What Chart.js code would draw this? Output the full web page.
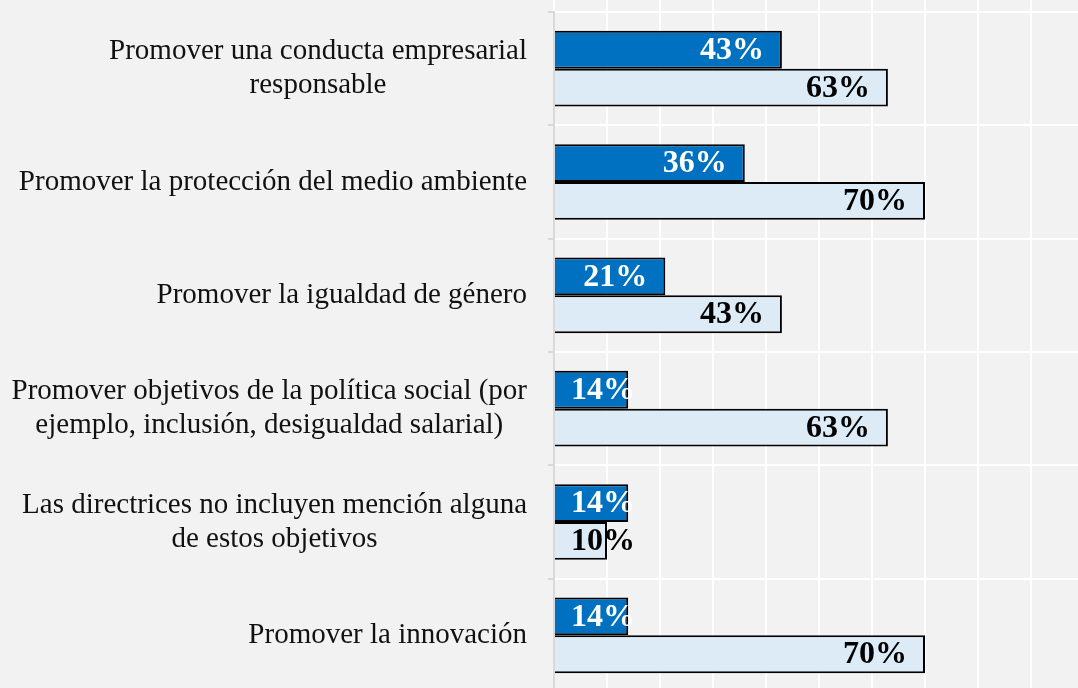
<!DOCTYPE html>
<html>
<head>
<meta charset="utf-8">
<script src="https://cdn.jsdelivr.net/npm/chart.js@4.4.1/dist/chart.umd.min.js"></script>
<style>
  html, body { margin: 0; padding: 0; background: #F2F2F2; overflow: hidden; }
  #wrap { width: 1084px; height: 692px; position: relative; }
</style>
</head>
<body>
<div id="wrap"><canvas id="objChart"></canvas></div>
<script>
// categories (multi-line labels)
const categories = [
    ['Promover una conducta empresarial', 'responsable'],
    ['Promover la protección del medio ambiente'],
    ['Promover la igualdad de género'],
    ['Promover objetivos de la política social (por', 'ejemplo, inclusión, desigualdad salarial)'],
    ['Las directrices no incluyen mención alguna', 'de estos objetivos'],
    ['Promover la innovación']
];
const seriesA = [43, 36, 21, 14, 14, 14];
const seriesB = [63, 70, 43, 63, 10, 70];
const xTicks = [0, 10, 20, 30, 40, 50, 60, 70, 80, 90, 100];

const SERIF = "'Liberation Serif', 'Times New Roman', serif";

// category labels: block right-aligned, lines centered to each other
const categoryLabels = {
    id: 'categoryLabels',
    afterDraw(chart) {
        const ctx = chart.ctx;
        const yScale = chart.scales.y;
        const rightEdge = chart.chartArea.left - 27;
        const lineH = 34;
        ctx.save();
        ctx.font = '29px ' + SERIF;
        ctx.fillStyle = '#111111';
        ctx.textAlign = 'center';
        ctx.textBaseline = 'middle';
        categories.forEach((lines, i) => {
            const yc = yScale.getPixelForTick(i);
            const maxW = Math.max(...lines.map(l => ctx.measureText(l).width));
            const cx = rightEdge - maxW / 2;
            lines.forEach((l, j) => {
                ctx.fillText(l, cx, yc + (j - (lines.length - 1) / 2) * lineH);
            });
        });
        ctx.restore();
    }
};

// value labels at inside end of bars
const valueLabels = {
    id: 'valueLabels',
    afterDatasetsDraw(chart) {
        const ctx = chart.ctx;
        ctx.save();
        ctx.font = 'bold 32px ' + SERIF;
        ctx.textAlign = 'right';
        ctx.textBaseline = 'middle';
        chart.data.datasets.forEach((ds, di) => {
            const meta = chart.getDatasetMeta(di);
            ctx.fillStyle = di === 0 ? '#FFFFFF' : '#000000';
            meta.data.forEach((bar, i) => {
                const txt = ds.data[i] + '%';
                const w = ctx.measureText(txt).width;
                const right = Math.max(bar.x - 18, bar.base + 16 + w);
                ctx.fillText(txt, right, bar.y + 1);
            });
        });
        ctx.restore();
    }
};

new Chart(document.getElementById('objChart'), {
    type: 'bar',
    data: {
        labels: categories,
        datasets: [{
            label: 'Serie A',
            data: seriesA,
            backgroundColor: '#0070C0',
            borderColor: '#000000',
            borderWidth: 2,
            categoryPercentage: 0.667,
            barPercentage: 1.0
        }, {
            label: 'Serie B',
            data: seriesB,
            backgroundColor: '#DDEBF7',
            borderColor: '#000000',
            borderWidth: 2,
            categoryPercentage: 0.667,
            barPercentage: 1.0
        }]
    },
    options: {
        indexAxis: 'y',
        responsive: true,
        maintainAspectRatio: false,
        animation: false,
        layout: { padding: 0 },
        plugins: {
            legend: { display: false },
            tooltip: { enabled: false }
        },
        scales: {
            x: {
                position: 'top',
                min: 0,
                max: 100,
                afterBuildTicks: (scale) => { scale.ticks = xTicks.map(v => ({ value: v })); },
                ticks: { display: false },
                grid: {
                    color: '#FFFFFF',
                    lineWidth: 2,
                    drawTicks: true,
                    tickLength: 12,
                    tickColor: '#FFFFFF'
                },
                border: { display: false }
            },
            y: {
                offset: true,
                ticks: { display: false },
                afterFit: (scale) => { scale.width = 554; },
                grid: {
                    offset: true,
                    color: '#FFFFFF',
                    lineWidth: 2,
                    drawTicks: true,
                    tickLength: 6,
                    tickColor: '#D9D9D9'
                },
                border: { display: true, color: '#D9D9D9', width: 2 }
            }
        }
    },
    plugins: [categoryLabels, valueLabels]
});
</script>
</body>
</html>
